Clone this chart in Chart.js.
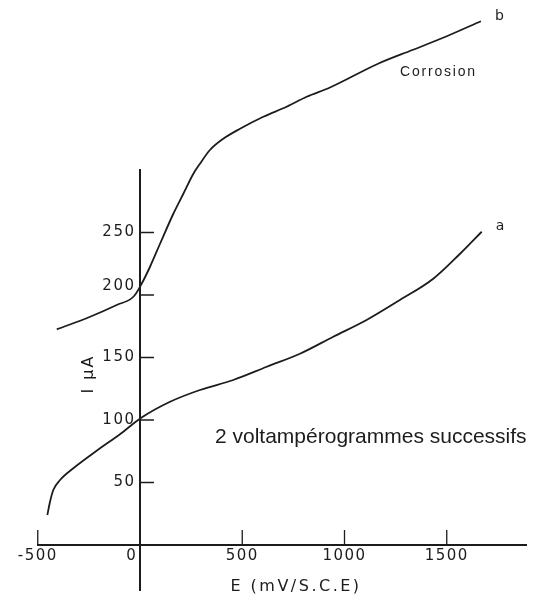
<!DOCTYPE html>
<html>
<head>
<meta charset="utf-8">
<script src="https://cdn.jsdelivr.net/npm/chart.js@4/dist/chart.umd.min.js"></script>
<style>
  html, body { margin: 0; padding: 0; background: #fff; }
  canvas { display: block; }
</style>
</head>
<body>
<canvas id="c" width="537" height="605"></canvas>
<script>
// Sweep a: potential (mV vs S.C.E) and current (µA)
const potentialA = [-453, -440, -424, -391, -326, -212, -98, 8, 147, 293, 456, 620, 782, 945, 1108, 1271, 1434, 1565, 1671];
const currentA   = [24, 34.6, 44, 52, 61.4, 75.4, 88.6, 102, 114.6, 124, 132, 142.6, 153, 166.6, 180, 196, 213, 233, 250.6];

// Sweep b (corrosion): potential (mV vs S.C.E) and current (µA)
const potentialB = [-407, -244, -114, -30, 8, 49, 98, 163, 212, 261, 293, 342, 407, 489, 603, 717, 815, 929, 1164, 1332, 1500, 1667];
const currentB   = [172.5, 182.6, 192, 199, 209, 222.6, 241, 265, 281, 297, 305, 316, 325, 333, 342.6, 350.6, 358.6, 366, 385, 396, 407, 419];

// Axis ticks
const xTicks = [-500, 0, 500, 1000, 1500];
const xTickLabels = ['-500', '0', '500', '1000', '1500'];
const yTicks = [50, 100, 150, 200, 250];
const yTickLabels = ['50', '100', '150', '200', '250'];

const curveNames = ['a', 'b'];

const INK = '#1c1c1c';
const LETTER = '"DejaVu Sans", sans-serif';
const SANS = '"Liberation Sans", Arial, sans-serif';

const toPoints = (xs, ys) => xs.map((v, i) => ({ x: v, y: ys[i] }));

// Inward tick marks, axis titles and annotations
const axisDecor = {
  id: 'axisDecor',
  beforeDraw(chart) {
    chart.ctx.letterSpacing = '1.5px';
  },
  afterDraw(chart) {
    const { ctx, scales: { x, y } } = chart;
    const x0 = x.getPixelForValue(0);
    const y0 = y.getPixelForValue(0);
    ctx.save();
    ctx.strokeStyle = INK;
    ctx.lineWidth = 1.3;
    ctx.beginPath();
    xTicks.forEach(v => {
      if (v === 0) return;
      const px = x.getPixelForValue(v);
      ctx.moveTo(px, y0);
      ctx.lineTo(px, y0 - 15);
    });
    yTicks.forEach(v => {
      const py = y.getPixelForValue(v);
      ctx.moveTo(x0, py);
      ctx.lineTo(x0 + 14, py);
    });
    ctx.stroke();

    ctx.fillStyle = INK;
    // x-axis title
    ctx.letterSpacing = '2.5px';
    ctx.font = '16px ' + LETTER;
    ctx.textAlign = 'center';
    ctx.textBaseline = 'middle';
    ctx.fillText('E (mV/S.C.E)', 296, 587);

    // y-axis title, reading bottom to top
    ctx.save();
    ctx.translate(89, 374);
    ctx.rotate(-Math.PI / 2);
    ctx.letterSpacing = '2px';
    ctx.font = '16px ' + LETTER;
    ctx.fillText('I µA', 0, 0);
    ctx.restore();

    // curve names at the end of each sweep
    ctx.letterSpacing = '0px';
    ctx.font = '14px ' + LETTER;
    ctx.textAlign = 'left';
    chart.data.datasets.forEach((ds, i) => {
      const last = ds.data[ds.data.length - 1];
      const px = x.getPixelForValue(last.x);
      const py = y.getPixelForValue(last.y);
      ctx.fillText(curveNames[i], px + 14, py - 5);
    });

    ctx.textBaseline = 'alphabetic';
    ctx.letterSpacing = '1.8px';
    ctx.font = '14px ' + SANS;
    ctx.fillText('Corrosion', 400, 76);

    ctx.letterSpacing = '0px';
    ctx.font = '21px ' + SANS;
    ctx.fillText('2 voltampérogrammes successifs', 215, 443);
    ctx.restore();
  }
};

new Chart(document.getElementById('c'), {
  type: 'line',
  data: {
    datasets: [
      {
        label: 'a',
        data: toPoints(potentialA, currentA),
        borderColor: INK,
        borderWidth: 1.8,
        pointRadius: 0,
        cubicInterpolationMode: 'monotone',
        fill: false,
        clip: false
      },
      {
        label: 'b',
        data: toPoints(potentialB, currentB),
        borderColor: INK,
        borderWidth: 1.8,
        pointRadius: 0,
        cubicInterpolationMode: 'monotone',
        fill: false,
        clip: false
      }
    ]
  },
  options: {
    responsive: false,
    animation: false,
    devicePixelRatio: 1,
    layout: { padding: { left: 37.75, right: 10.5, top: 170, bottom: 15 } },
    plugins: { legend: { display: false }, tooltip: { enabled: false } },
    scales: {
      x: {
        type: 'linear',
        min: -500,
        max: 1890,
        position: { y: 0 },
        grid: { display: false, drawTicks: false },
        border: { display: true, color: INK, width: 2 },
        afterBuildTicks: s => { s.ticks = xTicks.map(v => ({ value: v })); },
        ticks: {
          autoSkip: false,
          maxRotation: 0,
          padding: 2,
          color: INK,
          font: { family: 'DejaVu Sans', size: 15 },
          // keep the "0" clear of the vertical axis line
          callback: (v, i) => (v === 0 ? xTickLabels[i] + '\u2003' : xTickLabels[i])
        }
      },
      y: {
        type: 'linear',
        min: -36,
        max: 300,
        position: { x: 0 },
        grid: { display: false, drawTicks: false },
        border: { display: true, color: INK, width: 2 },
        afterBuildTicks: s => { s.ticks = yTicks.map(v => ({ value: v })); },
        ticks: {
          autoSkip: false,
          padding: 6,
          color: INK,
          font: { family: 'DejaVu Sans', size: 15 },
          // small gap before the axis line; "200" lifted above curve b
          callback: (v, i) => {
            const label = yTickLabels[i] + '\u2009';
            return v === 200 ? [label, ''] : label;
          }
        }
      }
    }
  },
  plugins: [axisDecor]
});
</script>
</body>
</html>
